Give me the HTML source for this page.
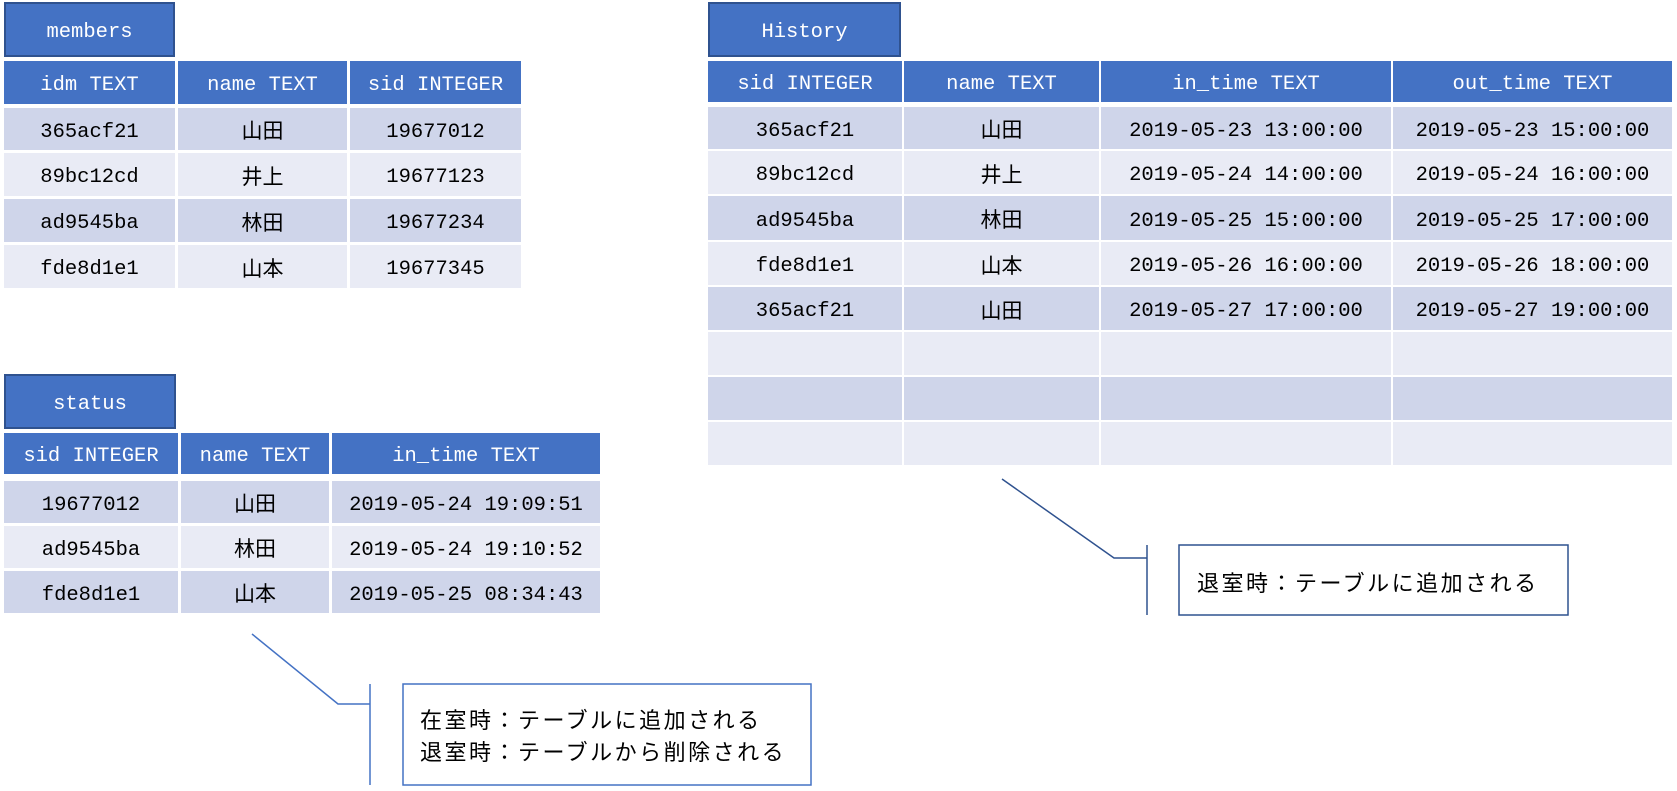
<!DOCTYPE html>
<html><head><meta charset="utf-8"><style>
body{margin:0;width:1677px;height:791px;background:#fff;position:relative;overflow:hidden;font-family:"Liberation Mono","Noto Sans CJK JP",monospace;}
.c{position:absolute;display:flex;align-items:center;justify-content:center;font-size:20.5px;line-height:1;color:#000;white-space:nowrap;box-sizing:border-box;padding-top:8px;}
.t{background:#4472C4;border:2px solid #2F528F;color:#fff;padding-top:8px;}
.h{background:#4472C4;color:#fff;padding-top:8px;}
.o{background:#CFD5EA;}
.e{background:#E9EBF5;}
.j{font-family:"Noto Sans CJK JP",sans-serif;font-size:21px;padding-top:3px;}
.note{position:absolute;font-family:'Noto Sans CJK JP',sans-serif;font-size:22px;letter-spacing:2.5px;line-height:32px;color:#000;white-space:nowrap}
</style></head><body>
<!-- members -->
<div class="c t" style="left:4px;top:2px;width:171px;height:55px">members</div>
<div class="c h" style="left:4px;top:61px;width:171px;height:43px">idm TEXT</div>
<div class="c h" style="left:178px;top:61px;width:169px;height:43px">name TEXT</div>
<div class="c h" style="left:350px;top:61px;width:171px;height:43px">sid INTEGER</div>

<div class="c o" style="left:4px;top:108px;width:171px;height:42px">365acf21</div>
<div class="c o j" style="left:178px;top:108px;width:169px;height:42px">山田</div>
<div class="c o" style="left:350px;top:108px;width:171px;height:42px">19677012</div>
<div class="c e" style="left:4px;top:153px;width:171px;height:43px">89bc12cd</div>
<div class="c e j" style="left:178px;top:153px;width:169px;height:43px">井上</div>
<div class="c e" style="left:350px;top:153px;width:171px;height:43px">19677123</div>
<div class="c o" style="left:4px;top:199px;width:171px;height:43px">ad9545ba</div>
<div class="c o j" style="left:178px;top:199px;width:169px;height:43px">林田</div>
<div class="c o" style="left:350px;top:199px;width:171px;height:43px">19677234</div>
<div class="c e" style="left:4px;top:245px;width:171px;height:43px">fde8d1e1</div>
<div class="c e j" style="left:178px;top:245px;width:169px;height:43px">山本</div>
<div class="c e" style="left:350px;top:245px;width:171px;height:43px">19677345</div>

<!-- status -->
<div class="c t" style="left:4px;top:374px;width:172px;height:55px">status</div>
<div class="c h" style="left:4px;top:433px;width:174px;height:41px">sid INTEGER</div>
<div class="c h" style="left:181px;top:433px;width:148px;height:41px">name TEXT</div>
<div class="c h" style="left:332px;top:433px;width:268px;height:41px">in_time TEXT</div>
<div class="c o" style="left:4px;top:481px;width:174px;height:42px">19677012</div>
<div class="c o j" style="left:181px;top:481px;width:148px;height:42px">山田</div>
<div class="c o" style="left:332px;top:481px;width:268px;height:42px">2019-05-24 19:09:51</div>
<div class="c e" style="left:4px;top:526px;width:174px;height:42px">ad9545ba</div>
<div class="c e j" style="left:181px;top:526px;width:148px;height:42px">林田</div>
<div class="c e" style="left:332px;top:526px;width:268px;height:42px">2019-05-24 19:10:52</div>
<div class="c o" style="left:4px;top:571px;width:174px;height:42px">fde8d1e1</div>
<div class="c o j" style="left:181px;top:571px;width:148px;height:42px">山本</div>
<div class="c o" style="left:332px;top:571px;width:268px;height:42px">2019-05-25 08:34:43</div>

<!-- History -->
<div class="c t" style="left:708px;top:2px;width:193px;height:55px">History</div>
<div class="c h" style="left:708px;top:61px;width:194px;height:41px">sid INTEGER</div>
<div class="c h" style="left:904px;top:61px;width:195px;height:41px">name TEXT</div>
<div class="c h" style="left:1101px;top:61px;width:290px;height:41px">in_time TEXT</div>
<div class="c h" style="left:1393px;top:61px;width:279px;height:41px">out_time TEXT</div>

<div class="c o" style="left:708px;top:107px;width:194px;height:42px">365acf21</div>
<div class="c o j" style="left:904px;top:107px;width:195px;height:42px">山田</div>
<div class="c o" style="left:1101px;top:107px;width:290px;height:42px">2019-05-23 13:00:00</div>
<div class="c o" style="left:1393px;top:107px;width:279px;height:42px">2019-05-23 15:00:00</div>

<div class="c e" style="left:708px;top:151px;width:194px;height:43px">89bc12cd</div>
<div class="c e j" style="left:904px;top:151px;width:195px;height:43px">井上</div>
<div class="c e" style="left:1101px;top:151px;width:290px;height:43px">2019-05-24 14:00:00</div>
<div class="c e" style="left:1393px;top:151px;width:279px;height:43px">2019-05-24 16:00:00</div>

<div class="c o" style="left:708px;top:196px;width:194px;height:44px">ad9545ba</div>
<div class="c o j" style="left:904px;top:196px;width:195px;height:44px">林田</div>
<div class="c o" style="left:1101px;top:196px;width:290px;height:44px">2019-05-25 15:00:00</div>
<div class="c o" style="left:1393px;top:196px;width:279px;height:44px">2019-05-25 17:00:00</div>

<div class="c e" style="left:708px;top:242px;width:194px;height:43px">fde8d1e1</div>
<div class="c e j" style="left:904px;top:242px;width:195px;height:43px">山本</div>
<div class="c e" style="left:1101px;top:242px;width:290px;height:43px">2019-05-26 16:00:00</div>
<div class="c e" style="left:1393px;top:242px;width:279px;height:43px">2019-05-26 18:00:00</div>

<div class="c o" style="left:708px;top:287px;width:194px;height:43px">365acf21</div>
<div class="c o j" style="left:904px;top:287px;width:195px;height:43px">山田</div>
<div class="c o" style="left:1101px;top:287px;width:290px;height:43px">2019-05-27 17:00:00</div>
<div class="c o" style="left:1393px;top:287px;width:279px;height:43px">2019-05-27 19:00:00</div>

<div class="c e" style="left:708px;top:332px;width:194px;height:43px"></div>
<div class="c e" style="left:904px;top:332px;width:195px;height:43px"></div>
<div class="c e" style="left:1101px;top:332px;width:290px;height:43px"></div>
<div class="c e" style="left:1393px;top:332px;width:279px;height:43px"></div>

<div class="c o" style="left:708px;top:377px;width:194px;height:43px"></div>
<div class="c o" style="left:904px;top:377px;width:195px;height:43px"></div>
<div class="c o" style="left:1101px;top:377px;width:290px;height:43px"></div>
<div class="c o" style="left:1393px;top:377px;width:279px;height:43px"></div>

<div class="c e" style="left:708px;top:422px;width:194px;height:43px"></div>
<div class="c e" style="left:904px;top:422px;width:195px;height:43px"></div>
<div class="c e" style="left:1101px;top:422px;width:290px;height:43px"></div>
<div class="c e" style="left:1393px;top:422px;width:279px;height:43px"></div>

<svg width="1677" height="791" style="position:absolute;left:0;top:0">
<polyline points="252,634 338,704 370,704" fill="none" stroke="#4472C4" stroke-width="1.5"/>
<line x1="370" y1="684" x2="370" y2="785" stroke="#4472C4" stroke-width="1.5"/>
<rect x="403" y="684" width="408" height="101" fill="#fff" stroke="#4472C4" stroke-width="1.5"/>
<polyline points="1002,479 1114,558 1147,558" fill="none" stroke="#2F528F" stroke-width="1.5"/>
<line x1="1147" y1="545" x2="1147" y2="615" stroke="#2F528F" stroke-width="1.5"/>
<rect x="1179" y="545" width="389" height="70" fill="#fff" stroke="#2F528F" stroke-width="1.5"/>
</svg>
<div class="note" style="left:420px;top:703px">在室時：テーブルに追加される<br>退室時：テーブルから削除される</div>
<div class="note" style="left:1197px;top:566px">退室時：テーブルに追加される</div>
</body></html>
